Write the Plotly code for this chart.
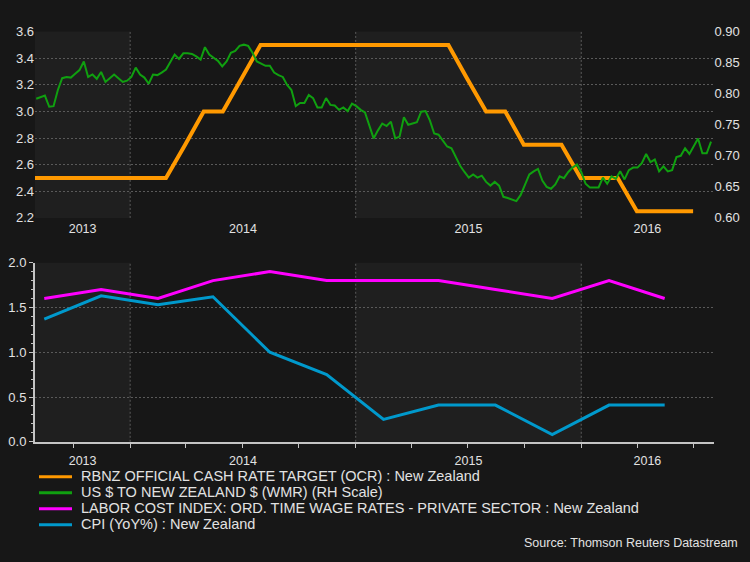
import pandas as pd
import plotly.graph_objects as go

# ---------------- data ----------------
ocr_dates = pd.date_range("2013-07-31", "2016-06-30", freq=pd.offsets.MonthEnd())
ocr_values = [2.5, 2.5, 2.5, 2.5, 2.5, 2.5,          # Jul-Dec 2013
              2.5, 2.5, 2.75, 3.0, 3.0, 3.25, 3.5, 3.5, 3.5, 3.5, 3.5, 3.5,  # 2014
              3.5, 3.5, 3.5, 3.5, 3.5, 3.25, 3.0, 3.0, 2.75, 2.75, 2.75, 2.5,  # 2015
              2.5, 2.5, 2.25, 2.25, 2.25, 2.25]      # Jan-Jun 2016

fx_values = [0.792, 0.794, 0.797, 0.779, 0.780, 0.806, 0.825, 0.827, 0.826, 0.832,
             0.838, 0.852, 0.827, 0.831, 0.824, 0.835, 0.819, 0.825, 0.831, 0.825,
             0.819, 0.821, 0.827, 0.842, 0.831, 0.826, 0.816, 0.831, 0.830, 0.834,
             0.839, 0.851, 0.863, 0.856, 0.865, 0.865, 0.864, 0.860, 0.855, 0.875,
             0.863, 0.858, 0.853, 0.844, 0.852, 0.866, 0.869, 0.877, 0.879, 0.877,
             0.866, 0.852, 0.848, 0.845, 0.845, 0.834, 0.830, 0.827, 0.814, 0.806,
             0.780, 0.785, 0.785, 0.798, 0.793, 0.778, 0.778, 0.793, 0.782, 0.781,
             0.774, 0.778, 0.772, 0.784, 0.780, 0.774, 0.770, 0.749, 0.728, 0.741,
             0.752, 0.748, 0.755, 0.728, 0.731, 0.762, 0.750, 0.752, 0.754, 0.771,
             0.772, 0.757, 0.736, 0.734, 0.725, 0.715, 0.712, 0.697, 0.684, 0.674,
             0.665, 0.670, 0.665, 0.668, 0.658, 0.652, 0.658, 0.652, 0.634, 0.632,
             0.630, 0.627, 0.637, 0.655, 0.670, 0.675, 0.679, 0.660, 0.650, 0.647,
             0.654, 0.667, 0.664, 0.674, 0.681, 0.686, 0.674, 0.655, 0.649, 0.649,
             0.649, 0.665, 0.655, 0.667, 0.663, 0.675, 0.662, 0.677, 0.681, 0.681,
             0.688, 0.703, 0.690, 0.694, 0.675, 0.683, 0.675, 0.677, 0.698, 0.700,
             0.712, 0.703, 0.715, 0.728, 0.704, 0.704, 0.723]
fx_dates = pd.date_range("2013-08-02", periods=len(fx_values), freq="7D")

q_dates = ["2013-08-15", "2013-11-15", "2014-02-15", "2014-05-15", "2014-08-15",
           "2014-11-15", "2015-02-15", "2015-05-15", "2015-08-15", "2015-11-15",
           "2016-02-15", "2016-05-15"]
lci_values = [1.6, 1.7, 1.6, 1.8, 1.9, 1.8, 1.8, 1.8, 1.7, 1.6, 1.8, 1.6]
cpi_values = [1.37, 1.63, 1.53, 1.62, 1.0, 0.75, 0.25, 0.41, 0.41, 0.08, 0.41, 0.41]

year_labels = ["2013", "2014", "2015", "2016"]
names = ["RBNZ OFFICIAL CASH RATE TARGET (OCR) : New Zealand",
         "US $ TO NEW ZEALAND $ (WMR) (RH Scale)",
         "LABOR COST INDEX: ORD. TIME WAGE RATES - PRIVATE SECTOR : New Zealand",
         "CPI (YoY%) : New Zealand"]
colors = ["#ff9900", "#10a010", "#ff00ff", "#0099cc"]
widths = [4, 2, 3, 3]

x_start, x_end = pd.Timestamp("2013-07-31"), pd.Timestamp("2016-08-02")
year_starts = [pd.Timestamp(f"{y}-01-01") for y in year_labels[1:]]
bounds = [x_start] + year_starts + [x_end]
year_centers = [bounds[i] + (bounds[i + 1] - bounds[i]) / 2 for i in range(len(year_labels))]
quarters = pd.date_range("2013-10-01", "2016-07-01", freq="QS")

BG = "#171717"
BAND = "#1f1f1f"
GRID = "#5a5a5a"
TXT = "#e2e2e2"
AX = "#c4c4c4"
FONT = "Liberation Sans, Arial, sans-serif"
W, H = 750, 562

fig = go.Figure()
fig.add_trace(go.Scatter(x=ocr_dates, y=ocr_values, name=names[0], mode="lines",
                         line=dict(color=colors[0], width=widths[0]), xaxis="x", yaxis="y"))
fig.add_trace(go.Scatter(x=fx_dates, y=fx_values, name=names[1], mode="lines",
                         line=dict(color=colors[1], width=widths[1]), xaxis="x", yaxis="y2"))
fig.add_trace(go.Scatter(x=q_dates, y=lci_values, name=names[2], mode="lines",
                         line=dict(color=colors[2], width=widths[2]), xaxis="x2", yaxis="y3"))
fig.add_trace(go.Scatter(x=q_dates, y=cpi_values, name=names[3], mode="lines",
                         line=dict(color=colors[3], width=widths[3]), xaxis="x2", yaxis="y3"))

shapes = []
for xr, yr in (("x", "y domain"), ("x2", "y3 domain")):
    for i in (0, 2):
        shapes.append(dict(type="rect", xref=xr, yref=yr, x0=bounds[i], x1=bounds[i + 1],
                           y0=0, y1=1, fillcolor=BAND, line=dict(width=0), layer="below"))
    for ys in year_starts:
        shapes.append(dict(type="line", xref=xr, yref=yr, x0=ys, x1=ys, y0=0, y1=1,
                           line=dict(color=GRID, width=1, dash="2px,2px"), layer="below"))

# custom legend (lines + text)
annotations = []
leg_y = [482.7, 499.0, 515.5, 532.0]
for nm, c, yy in zip(names, colors, leg_y):
    shapes.append(dict(type="line", xref="paper", yref="paper", x0=39 / W, x1=72 / W,
                       y0=1 - yy / H, y1=1 - yy / H, line=dict(color=c, width=3)))
    annotations.append(dict(text=nm, xref="paper", yref="paper", x=78.5 / W, y=1 - (yy - 0.5) / H,
                            xanchor="left", yanchor="middle", showarrow=False,
                            font=dict(size=14.5, color=TXT, family=FONT)))
annotations.append(dict(text="Source: Thomson Reuters Datastream", xref="paper", yref="paper",
                        x=740 / W, y=1 - 551 / H, xanchor="right", yanchor="middle",
                        showarrow=False, font=dict(size=12.5, color=TXT, family=FONT)))

xd = [35 / W, 713.5 / W]
common_x = dict(range=[x_start, x_end], tickmode="array", tickvals=year_centers,
                ticktext=year_labels, showgrid=False, zeroline=False,
                tickfont=dict(size=12.5, color=TXT, family=FONT))

fig.update_layout(
    width=W, height=H,
    margin=dict(l=0, r=0, t=0, b=0),
    paper_bgcolor=BG, plot_bgcolor=BG,
    font=dict(family=FONT, color=TXT, size=13),
    shapes=shapes,
    annotations=annotations,
    showlegend=False,
    xaxis=dict(domain=xd, anchor="y", ticks="", showline=False, ticklabelstandoff=2,
               **common_x),
    yaxis=dict(domain=[1 - 216.7 / H, 1 - 25.3 / H], range=[2.2, 3.6], dtick=0.2,
               tickformat=".1f", showgrid=True, gridcolor=GRID, griddash="2px,2px",
               zeroline=False, showline=False, ticks="",
               tickfont=dict(size=13, color=TXT)),
    yaxis2=dict(overlaying="y", side="right", anchor="x", range=[0.6, 0.9], dtick=0.05,
                tickformat=".2f", showgrid=False, zeroline=False, showline=False, ticks="",
                tickfont=dict(size=13, color=TXT)),
    xaxis2=dict(domain=xd, anchor="y3", ticks="", showline=True, linecolor=AX, linewidth=2,
                ticklabelstandoff=6,
                minor=dict(tickmode="array", tickvals=list(quarters), ticks="outside",
                           ticklen=4, tickcolor=AX, tickwidth=1, showgrid=False),
                **common_x),
    yaxis3=dict(domain=[1 - 446.7 / H, 1 - 262.7 / H], anchor="x2", range=[0, 2.0],
                dtick=0.5, tickformat=".1f", showgrid=True, gridcolor=GRID,
                griddash="2px,2px", zeroline=False, showline=True, linecolor=AX,
                linewidth=2, ticks="outside", ticklen=4, tickcolor=AX,
                minor=dict(dtick=0.1, ticks="outside", ticklen=2, tickcolor=AX,
                           showgrid=False),
                tickfont=dict(size=13, color=TXT)),
)

fig.write_html("out.html", config={"displayModeBar": False},
               post_script="document.body.style.margin='0px';document.body.style.overflow='hidden';")
